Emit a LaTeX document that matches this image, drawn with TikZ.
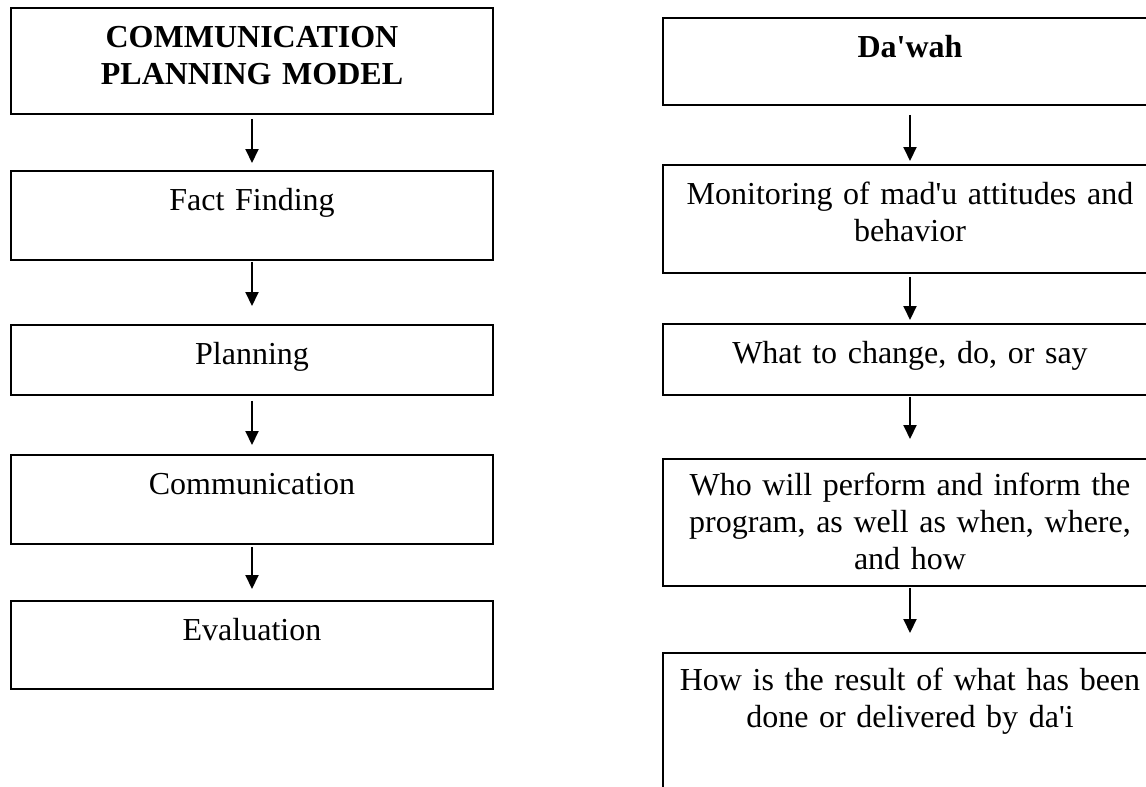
\documentclass[tikz,border=0pt]{standalone}
\usepackage{fontspec}
\setmainfont{Liberation Serif}[Ligatures=TeXOff]
\usetikzlibrary{arrows.meta}

\begin{document}
\begin{tikzpicture}[
            x = .5pt, y = -.5pt,
            every node/.style={font=\fontsize{16pt}{18.4pt}\selectfont},
            stepbox/.style={draw, line width = .9pt, anchor=north, inner sep=0pt, align=center, text height=20pt, text depth=#1},
            leftbox/.style={stepbox=#1, text width=241pt},
            rightbox/.style={stepbox=#1, text width=247pt},
            title/.style={font=\fontsize{16pt}{18.4pt}\selectfont\bfseries},
            line/.style={line width = 1pt, -{Triangle[length=7pt, width=6.5pt]}},
            ]
    \useasboundingbox (0,0) rectangle (1146,787);
    \clip (0,0) rectangle (1146,787);

    % communication planning model
    \node[leftbox=33pt, title] (model) at (252,7) {COMMUNICATION\\PLANNING MODEL};
    \node[leftbox=24.5pt] (fact) at (252,170) {Fact Finding};
    \node[leftbox=15pt] (plan) at (252,324) {Planning};
    \node[leftbox=24.5pt] (comm) at (252,454) {Communication};
    \node[leftbox=24pt] (eval) at (252,600) {Evaluation};

    \draw[line, shorten <=2pt, shorten >=3.5pt] (model.south) -- (fact.north);
    \draw[line, shorten <=.5pt, shorten >=9pt] (fact.south) -- (plan.north);
    \draw[line, shorten <=2.5pt, shorten >=4.5pt] (plan.south) -- (comm.north);
    \draw[line, shorten <=1pt, shorten >=5.5pt] (comm.south) -- (eval.north);

    % da'wah
    \node[rightbox=23.5pt, title] (dawah) at (910,17) {Da'wah};
    \node[rightbox=34pt] (monitor) at (910,164) {Monitoring of mad'u attitudes and\\behavior};
    \node[rightbox=15.5pt] (what) at (910,323) {What to change, do, or say};
    \node[rightbox=45pt, text height=18.5pt] (who) at (910,458) {Who will perform and inform the\\program, as well as when, where,\\and how};
    \node[rightbox=70pt, text height=19pt] (result) at (910,652) {How is the result of what has been\\done or delivered by da'i};

    \draw[line, shorten <=4.5pt, shorten >=1.5pt] (dawah.south) -- (monitor.north);
    \draw[line, shorten <=1.5pt, shorten >=1.5pt] (monitor.south) -- (what.north);
    \draw[line, shorten <=.5pt, shorten >=9.5pt] (what.south) -- (who.north);
    \draw[line, shorten <=.5pt, shorten >=9.5pt] (who.south) -- (result.north);

\end{tikzpicture}
\end{document}
